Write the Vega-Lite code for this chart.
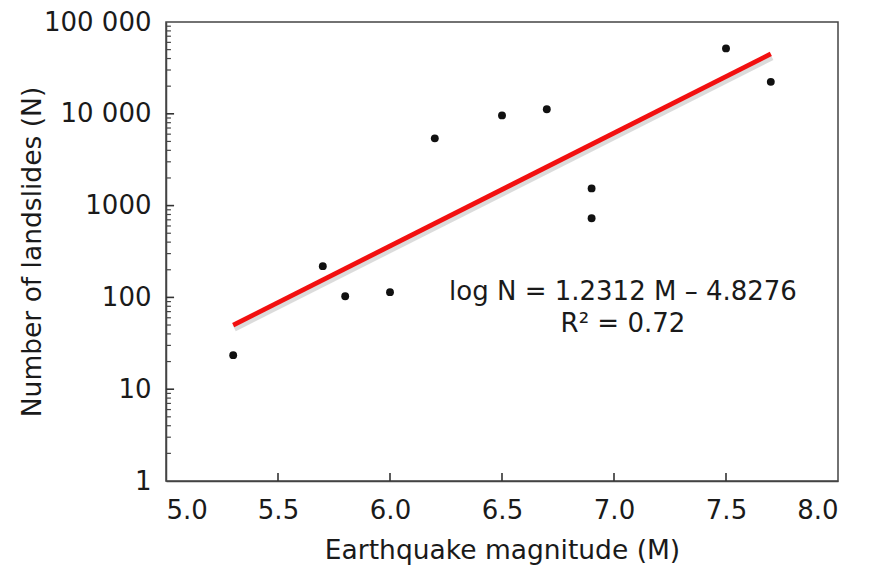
{
  "$schema": "https://vega.github.io/schema/vega-lite/v6.json",
  "autosize": "none",
  "width": 672,
  "height": 459,
  "padding": {"left": 166, "top": 22, "right": 36, "bottom": 93},
  "background": "white",
  "config": {
    "view": {"stroke": "#444", "strokeWidth": 1.5}
  },
  "datasets": {
    "points": [
      {"M": 5.3, "N": 23.5},
      {"M": 5.7, "N": 219},
      {"M": 5.8, "N": 103},
      {"M": 6.0, "N": 114},
      {"M": 6.2, "N": 5400},
      {"M": 6.5, "N": 9600},
      {"M": 6.7, "N": 11200},
      {"M": 6.9, "N": 1540},
      {"M": 6.9, "N": 728},
      {"M": 7.5, "N": 51600},
      {"M": 7.7, "N": 22300}
    ],
    "fit": [
      {"M": 5.3, "N": 49.9},
      {"M": 7.7, "N": 44900}
    ],
    "labels": [
      {"M": 7.04, "N": 114, "t": "log N = 1.2312 M – 4.8276"},
      {"M": 7.04, "N": 51, "t": "R² = 0.72"}
    ],
    "ymajor": [{"N": 10}, {"N": 100}, {"N": 1000}, {"N": 10000}],
    "yminor": [
      {"N": 2}, {"N": 3}, {"N": 4}, {"N": 5}, {"N": 6}, {"N": 7}, {"N": 8}, {"N": 9},
      {"N": 20}, {"N": 30}, {"N": 40}, {"N": 50}, {"N": 60}, {"N": 70}, {"N": 80}, {"N": 90},
      {"N": 200}, {"N": 300}, {"N": 400}, {"N": 500}, {"N": 600}, {"N": 700}, {"N": 800}, {"N": 900},
      {"N": 2000}, {"N": 3000}, {"N": 4000}, {"N": 5000}, {"N": 6000}, {"N": 7000}, {"N": 8000}, {"N": 9000},
      {"N": 20000}, {"N": 30000}, {"N": 40000}, {"N": 50000}, {"N": 60000}, {"N": 70000}, {"N": 80000}, {"N": 90000}
    ],
    "xmajor": [{"M": 5.5}, {"M": 6.0}, {"M": 6.5}, {"M": 7.0}, {"M": 7.5}]
  },
  "layer": [
    {
      "data": {"name": "fit"},
      "mark": {"type": "line", "color": "#888", "strokeWidth": 7, "opacity": 0.3, "yOffset": 3, "xOffset": 1},
      "encoding": {
        "x": {"field": "M", "type": "quantitative", "scale": {"domain": [5, 8], "nice": false, "zero": false},
          "axis": {"values": [5, 5.5, 6, 6.5, 7, 7.5, 8], "format": ".1f", "grid": false,
            "ticks": false,
            "domainColor": "#444", "domainWidth": 1.5,
            "labelFont": "DejaVu Sans", "labelFontSize": 26, "labelColor": "#1a1a1a", "labelPadding": 16,
            "title": "Earthquake magnitude (M)", "titleFont": "DejaVu Sans", "titleFontSize": 26.5, "titleFontWeight": "normal", "titleColor": "#1a1a1a", "titlePadding": 14}},
        "y": {"field": "N", "type": "quantitative", "scale": {"type": "log", "domain": [1, 100000], "nice": false},
          "axis": {
            "values": [1, 10, 100, 1000, 10000, 100000],
            "labelExpr": "datum.value == 100000 ? '100 000' : datum.value == 10000 ? '10 000' : datum.value == 1000 ? '1000' : datum.value == 100 ? '100' : datum.value == 10 ? '10' : '1'",
            "grid": false,
            "ticks": false,
            "domainColor": "#444", "domainWidth": 1.5,
            "labelFont": "DejaVu Sans", "labelFontSize": 26, "labelColor": "#1a1a1a", "labelPadding": 15,
            "title": "Number of landslides (N)", "titleFont": "DejaVu Sans", "titleFontSize": 26.5, "titleFontWeight": "normal", "titleColor": "#1a1a1a",
            "titlePadding": -3
          }}
      }
    },
    {
      "data": {"name": "ymajor"},
      "mark": {"type": "rule", "color": "#333", "strokeWidth": 1.6},
      "encoding": {
        "x": {"datum": 5, "type": "quantitative"},
        "x2": {"datum": 5.036},
        "y": {"field": "N", "type": "quantitative"}
      }
    },
    {
      "data": {"name": "yminor"},
      "mark": {"type": "rule", "color": "#444", "strokeWidth": 1.2},
      "encoding": {
        "x": {"datum": 5, "type": "quantitative"},
        "x2": {"datum": 5.022},
        "y": {"field": "N", "type": "quantitative"}
      }
    },
    {
      "data": {"name": "xmajor"},
      "mark": {"type": "rule", "color": "#333", "strokeWidth": 1.6},
      "encoding": {
        "x": {"field": "M", "type": "quantitative"},
        "y": {"datum": 1, "type": "quantitative"},
        "y2": {"datum": 1.22}
      }
    },
    {
      "data": {"name": "fit"},
      "mark": {"type": "line", "color": "#f21010", "strokeWidth": 4.8},
      "encoding": {
        "x": {"field": "M", "type": "quantitative"},
        "y": {"field": "N", "type": "quantitative"}
      }
    },
    {
      "data": {"name": "points"},
      "mark": {"type": "circle", "color": "#111", "opacity": 1, "size": 62},
      "encoding": {
        "x": {"field": "M", "type": "quantitative"},
        "y": {"field": "N", "type": "quantitative"}
      }
    },
    {
      "data": {"name": "labels"},
      "mark": {"type": "text", "fontSize": 26, "font": "DejaVu Sans", "color": "#1a1a1a", "align": "center", "baseline": "middle"},
      "encoding": {
        "x": {"field": "M", "type": "quantitative"},
        "y": {"field": "N", "type": "quantitative"},
        "text": {"field": "t"}
      }
    }
  ]
}
